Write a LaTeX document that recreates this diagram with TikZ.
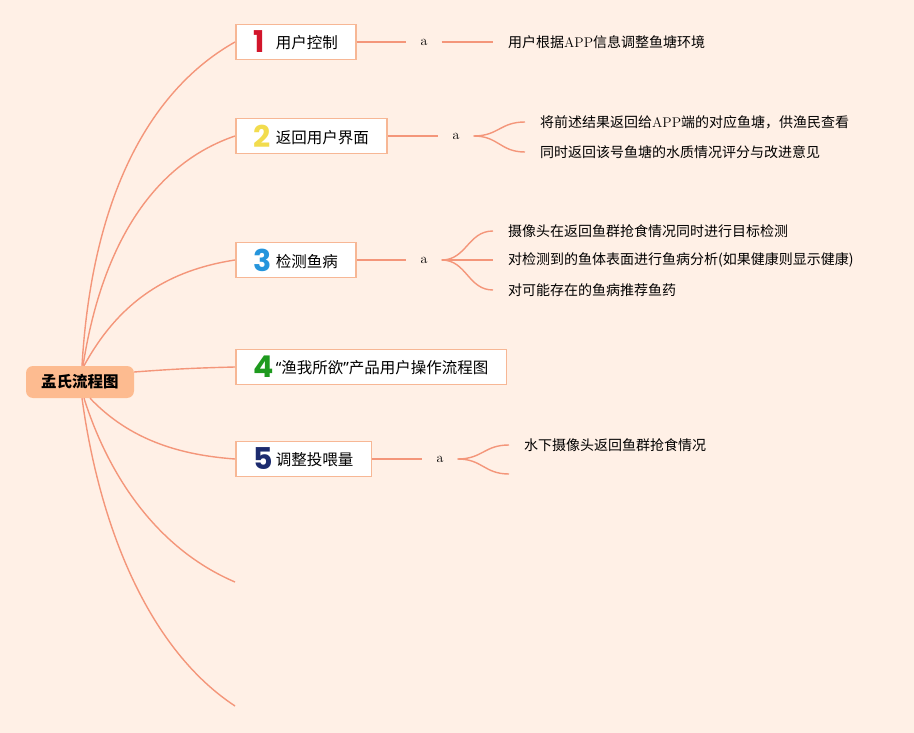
\documentclass[tikz,border=0pt]{standalone}
\usepackage{fontspec}
\newfontfamily\cjk{Noto Sans CJK SC}
\newfontfamily\numfont{Poppins}
\newfontfamily\quotefont{Noto Sans}
\definecolor{bgpeach}{HTML}{FFF0E6}
\definecolor{linesalmon}{HTML}{F4967A}
\definecolor{boxline}{HTML}{F7B795}
\definecolor{rootfill}{HTML}{FDBB90}
\definecolor{numred}{HTML}{D2152B}
\definecolor{numyellow}{HTML}{F2DC4E}
\definecolor{numblue}{HTML}{2595DC}
\definecolor{numgreen}{HTML}{1E9A1E}
\definecolor{numnavy}{HTML}{1C2B6E}
\newcommand{\bignum}[2]{\makebox[22pt][l]{\raisebox{-4pt}{\numfont\bfseries\fontsize{30}{30}\selectfont\color{#1}#2}}}

\tikzset{
  branch/.style = {draw=linesalmon, line width=1.4pt},
  root/.style   = {fill=rootfill, rounded corners=7pt, minimum width=108pt,
                   minimum height=32pt, font=\cjk\bfseries\fontsize{15.5}{16}\selectfont},
  topic/.style  = {draw=boxline, fill=white, line width=1.5pt, anchor=west,
                   minimum height=35pt, inner xsep=18pt, font=\cjk\fontsize{15.5}{16}\selectfont},
  tag/.style    = {inner xsep=14pt, font=\fontsize{14}{14}\selectfont},
  leaf/.style   = {anchor=west, inner xsep=15pt, font=\cjk\fontsize{14}{14}\selectfont},
}

\begin{document}
\begin{tikzpicture}[x=1pt, y=-1pt]
      \fill[bgpeach] (0,0) rectangle (914,733);
      \useasboundingbox (0,0) rectangle (914,733);

      \node[root] (root) at (80,382) {孟氏流程图};

      \node[topic] (t1) at (235,42)  {\bignum{numred}{1}用户控制};
      \node[topic] (t2) at (235,136) {\bignum{numyellow}{2}返回用户界面};
      \node[topic] (t3) at (235,260) {\bignum{numblue}{3}检测鱼病};
      \node[topic] (t4) at (235,367) {\bignum{numgreen}{4}{\quotefont“}渔我所欲{\quotefont”}产品用户操作流程图};
      \node[topic] (t5) at (235,459) {\bignum{numnavy}{5}调整投喂量};
      \coordinate (e6) at (235,582);
      \coordinate (e7) at (235,706);

      \node[tag] (a1) at (424,42)  {a};
      \node[tag] (a2) at (456,136) {a};
      \node[tag] (a3) at (424,260) {a};
      \node[tag] (a5) at (440,459) {a};

      \node[leaf] (l11) at (493,42)  {用户根据\textrm{APP}信息调整鱼塘环境};
      \node[leaf] (l21) at (525,122) {将前述结果返回给\textrm{APP}端的对应鱼塘，供渔民查看};
      \node[leaf] (l22) at (525,152) {同时返回该号鱼塘的水质情况评分与改进意见};
      \node[leaf] (l31) at (493,231) {摄像头在返回鱼群抢食情况同时进行目标检测};
      \node[leaf] (l32) at (493,260) {对检测到的鱼体表面进行鱼病分析(如果健康则显示健康)};
      \node[leaf] (l33) at (493,290) {对可能存在的鱼病推荐鱼药};
      \node[leaf] (l51) at (509,445) {水下摄像头返回鱼群抢食情况};
      \coordinate (c52) at (509,474);

      % root to topics
      \draw[branch] ([xshift=2pt]root.north) .. controls +(10,-170) and +(-85,48) .. (t1.west);
      \draw[branch] ([xshift=3pt]root.north) .. controls +(18,-116) and +(-85,29) .. (t2.west);
      \draw[branch] ([xshift=4pt]root.north) .. controls +(36,-66) and +(-65,10) .. (t3.west);
      \draw[branch] ([yshift=10pt]root.east) .. controls +(40,-3) and +(-40,1) .. (t4.west);
      \draw[branch] ([xshift=10pt]root.south) .. controls +(40,42) and +(-55,-4) .. (t5.west);
      \draw[branch] ([xshift=4pt]root.south) .. controls +(26,82) and +(-75,-32) .. (e6);
      \draw[branch] ([xshift=2pt]root.south) .. controls +(18,132) and +(-85,-56) .. (e7);

      % topics to tags
      \draw[branch] (t1.east) -- (a1.west);
      \draw[branch] (t2.east) -- (a2.west);
      \draw[branch] (t3.east) -- (a3.west);
      \draw[branch] (t5.east) -- (a5.west);

      % tags to leaves
      \draw[branch] (a1.east) -- (l11.west);
      \foreach \l in {l21,l22}
        \draw[branch] (a2.east) .. controls +(25,0) and +(-25,0) .. (\l.west);
      \foreach \l in {l31,l32,l33}
        \draw[branch] (a3.east) .. controls +(25,0) and +(-25,0) .. (\l.west);
      \draw[branch] (a5.east) .. controls +(25,0) and +(-25,0) .. (l51.west);
      \draw[branch] (a5.east) .. controls +(25,0) and +(-25,0) .. (c52);
    \end{tikzpicture}
\end{document}
